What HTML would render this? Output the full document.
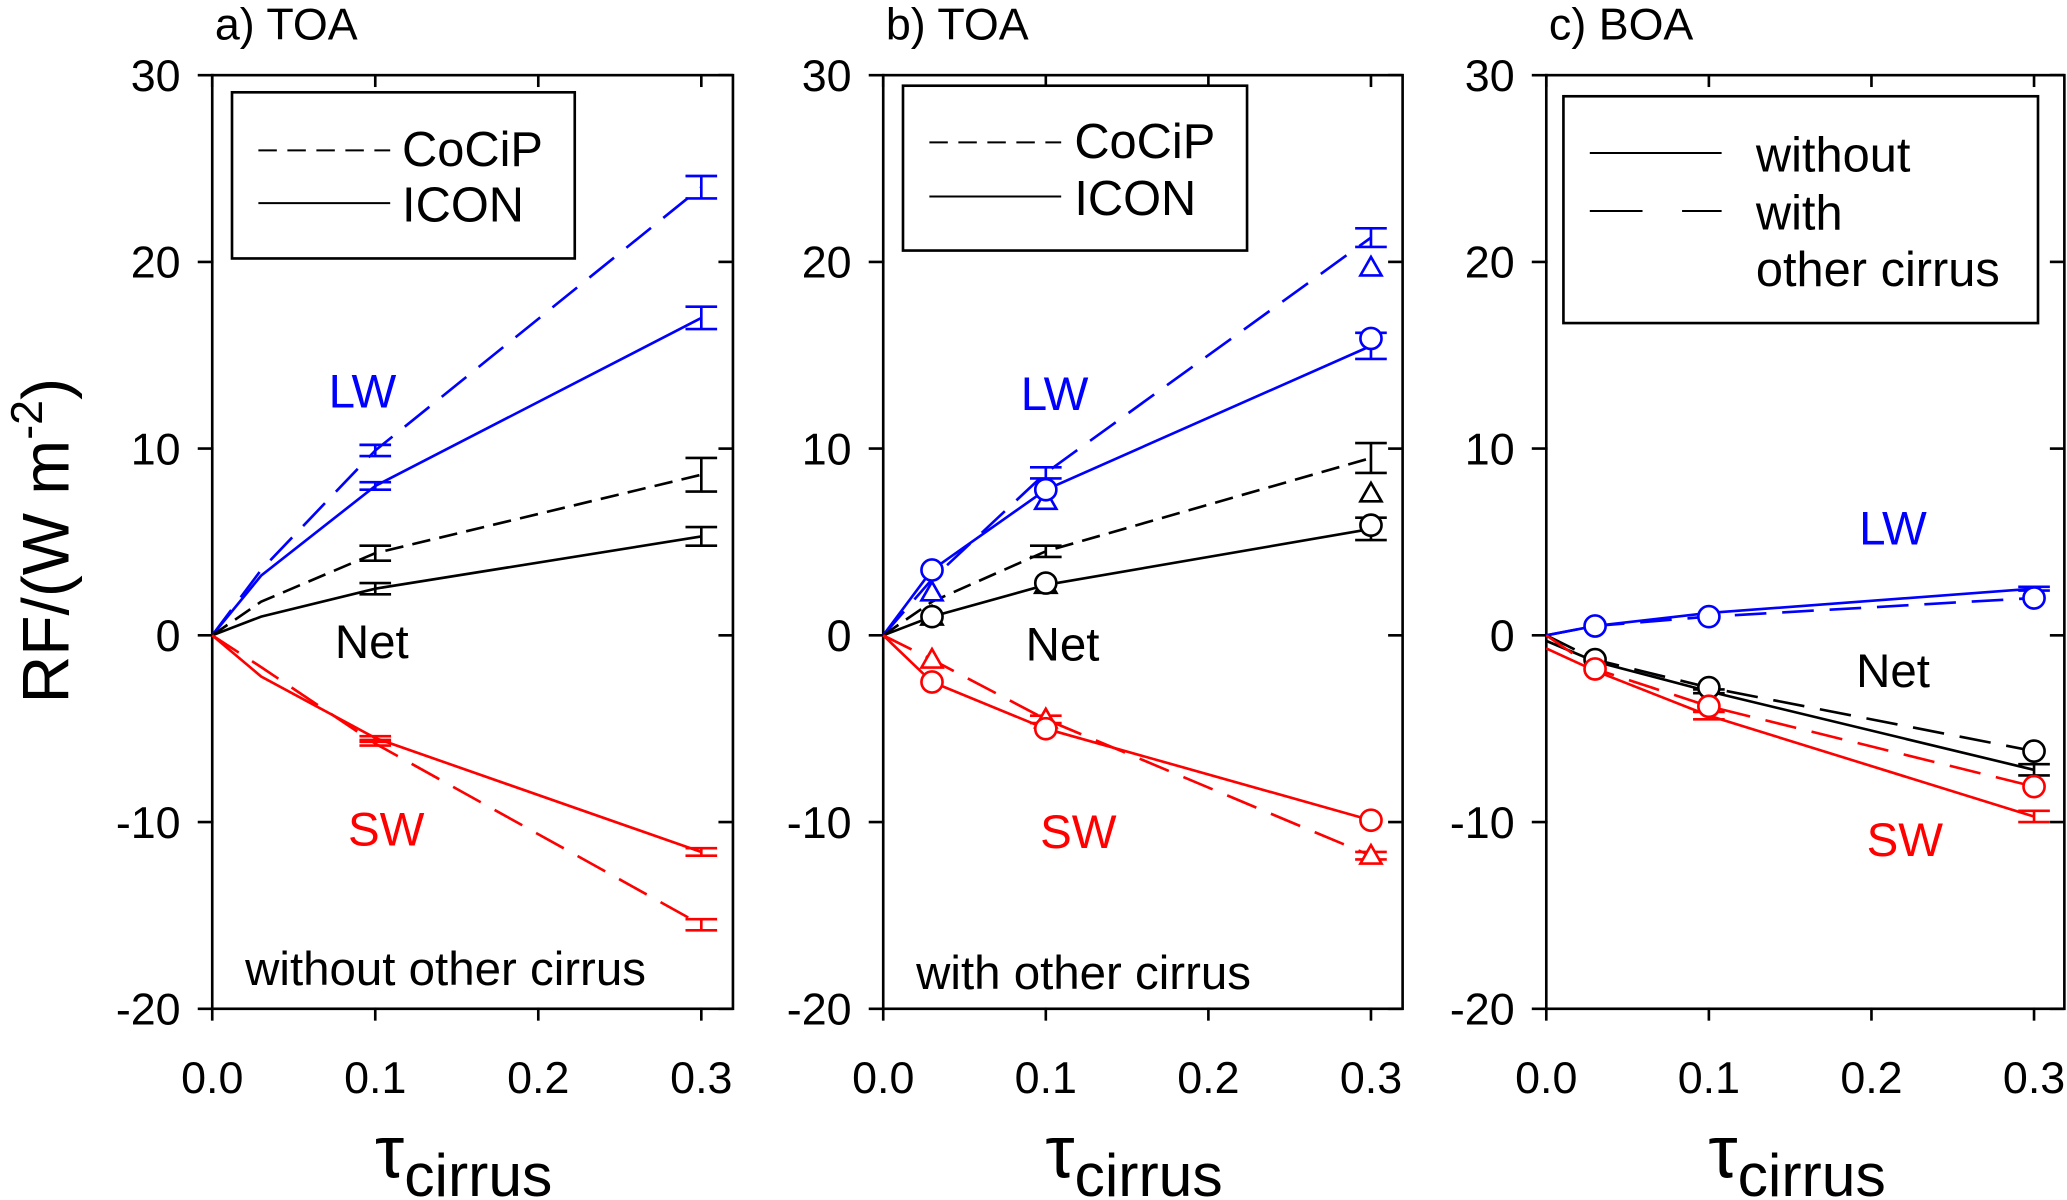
<!DOCTYPE html>
<html><head><meta charset="utf-8"><style>
html,body{margin:0;padding:0;background:#fff;}
svg{display:block;}
text{font-family:"Liberation Sans",Arial,sans-serif;}
</style></head><body>
<svg id="fig" width="2067" height="1200" viewBox="0 0 1568 910" preserveAspectRatio="none" xmlns="http://www.w3.org/2000/svg">
<g id="root"></g>
</svg>
<script>
const xTicks=[0,0.1,0.2,0.3];
const xTickLabels=["0.0","0.1","0.2","0.3"];
const yTicks=[30,20,10,0,-10,-20];
const taus=[0,0.03,0.1,0.3];
// Panel a (TOA, without other cirrus)
const aLwCocip=[0,3.5,9.9,24.0];
const aLwIcon=[0,3.2,8.0,17.0];
const aNetCocip=[0,1.8,4.4,8.6];
const aNetIcon=[0,1.0,2.5,5.3];
const aSwCocip=[0,-1.7,-5.8,-15.5];
const aSwIcon=[0,-2.2,-5.5,-11.6];
// Panel b (TOA, with other cirrus)
const bLwCocip=[0,3.0,8.7,21.3];
const bLwCocipTri=[null,2.3,7.2,19.7];
const bLwIcon=[0,3.5,7.8,15.5];
const bLwIconCirc=[null,3.5,7.8,15.9];
const bNetCocip=[0,1.8,4.5,9.5];
const bNetCocipTri=[null,1.0,2.7,7.6];
const bNetIcon=[0,1.0,2.7,5.7];
const bNetIconCirc=[null,1.0,2.8,5.9];
const bSwCocip=[0,-1.3,-4.5,-11.8];
const bSwIcon=[0,-2.5,-5.0,-9.9];
// Panel c (BOA)
const cLwWithout=[0,0.5,1.2,2.5];
const cLwWith=[0,0.5,1.0,2.0];
const cNetWithout=[-0.3,-1.4,-3.0,-7.2];
const cNetWith=[0,-1.3,-2.8,-6.2];
const cSwWithout=[-0.7,-1.9,-4.3,-9.7];
const cSwWith=[0,-1.8,-3.8,-8.1];

const NS="http://www.w3.org/2000/svg";
const root=document.getElementById('root');
function el(tag,attrs,parent){const e=document.createElementNS(NS,tag);for(const k in attrs)e.setAttribute(k,attrs[k]);(parent||root).appendChild(e);return e;}
function txt(s,x,y,size,fill,anchor,parent){const t=el('text',{x:x,y:y,'font-size':size,fill:fill||'#000','text-anchor':anchor||'start'},parent);t.textContent=s;return t;}

const TOP=57,BOT=765;
function yS(v){return BOT-(v+20)/50*(BOT-TOP);}

function panel(id,x0,x3,right,title){
  const g=el('g',{});
  
  
  const xS=v=>x0+v/0.3*(x3-x0);
  el('rect',{x:x0,y:TOP,width:right-x0,height:BOT-TOP,fill:'none',stroke:'#000','stroke-width':2},g);
  yTicks.forEach(v=>{
    const y=yS(v);
    el('line',{x1:x0-11,y1:y,x2:x0+1,y2:y,stroke:'#000','stroke-width':2},g);
    el('line',{x1:right-11,y1:y,x2:right,y2:y,stroke:'#000','stroke-width':2},g);
    const t=txt(String(v),x0-24,y+12,34,'#000','end',g);
    
    
  });
  xTicks.forEach((v,i)=>{
    const x=xS(v);
    el('line',{x1:x,y1:BOT+9,x2:x,y2:BOT-1,stroke:'#000','stroke-width':2},g);
    el('line',{x1:x,y1:TOP,x2:x,y2:TOP+9,stroke:'#000','stroke-width':2},g);
    const t=txt(xTickLabels[i],x,BOT+64,34,'#000','middle',g);
    
    
  });
  const tt=txt(title,x0+2,30,34,'#000','start',g);
  
  
  const xl=el('text',{x:xS(0.15)-62,y:893,'font-size':56,fill:'#000'},g);
  
  
  xl.innerHTML='τ<tspan font-size="46" dy="14">cirrus</tspan>';
  return {g,xS};
}
function series(P,vals,color,dash,name){
  const pts=[];vals.forEach((v,i)=>{if(v!==null)pts.push(P.xS(taus[i]).toFixed(1)+','+yS(v).toFixed(1));});
  const l=el('polyline',{points:pts.join(' '),fill:'none',stroke:color,'stroke-width':2,'stroke-dasharray':dash||'none'},P.g);
  
  
}
function errbar(P,tau,v,h,color,name){
  const x=P.xS(tau),y1=yS(v+h),y2=yS(v-h);
  const g=el('g',{},P.g);
  
  
  el('line',{x1:x,y1:y1,x2:x,y2:y2,stroke:color,'stroke-width':2},g);
  el('line',{x1:x-12,y1:y1,x2:x+12,y2:y1,stroke:color,'stroke-width':2},g);
  el('line',{x1:x-12,y1:y2,x2:x+12,y2:y2,stroke:color,'stroke-width':2},g);
}
function circles(P,vals,color,name){
  vals.forEach((v,i)=>{if(v===null||i===0)return;
    const c=el('circle',{cx:P.xS(taus[i]),cy:yS(v),r:8,fill:'#fff',stroke:color,'stroke-width':2},P.g);
    
    
  });
}
function triangles(P,vals,color,name){
  vals.forEach((v,i)=>{if(v===null||i===0)return;
    const x=P.xS(taus[i]),y=yS(v);
    const t=el('polygon',{points:`${x-8},${y+6} ${x+8},${y+6} ${x},${y-8}`,fill:'#fff',stroke:color,'stroke-width':2},P.g);
    
    
  });
}
function legend(P,x,y,w,h,items,labels){
  const g=el('g',{},P.g);
  
  
  el('rect',{x:x,y:y,width:w,height:h,fill:'#fff',stroke:'#000','stroke-width':2},g);
  items.forEach(it=>{el('line',{x1:x+20,y1:it.y,x2:x+120,y2:it.y,stroke:'#000','stroke-width':1.5,'stroke-dasharray':it.dash||'none'},g);});
  labels.forEach(lb=>{const t=txt(lb.t,lb.x,lb.y,37,'#000','start',g);});
}
const BLUE='#0000ff',RED='#ff0000',BLK='#000';
const D='14,7',DL='24,12';

// Panel a
const A=panel('a',161,532,556,'a) TOA');
series(A,aLwCocip,BLUE,DL,'lw-cocip-line');series(A,aLwIcon,BLUE,null,'lw-icon-line');
series(A,aNetCocip,BLK,D,'net-cocip-line');series(A,aNetIcon,BLK,null,'net-icon-line');
series(A,aSwCocip,RED,DL,'sw-cocip-line');series(A,aSwIcon,RED,null,'sw-icon-line');
errbar(A,0.1,aLwCocip[2],0.3,BLUE);errbar(A,0.3,aLwCocip[3],0.6,BLUE);
errbar(A,0.1,aLwIcon[2],0.2,BLUE);errbar(A,0.3,aLwIcon[3],0.6,BLUE);
errbar(A,0.1,aNetCocip[2],0.4,BLK);errbar(A,0.3,aNetCocip[3],0.9,BLK);
errbar(A,0.1,aNetIcon[2],0.3,BLK);errbar(A,0.3,aNetIcon[3],0.5,BLK);
errbar(A,0.1,aSwCocip[2],0.1,RED);errbar(A,0.3,aSwCocip[3],0.3,RED);
errbar(A,0.1,aSwIcon[2],0.1,RED);errbar(A,0.3,aSwIcon[3],0.2,RED);
legend(A,176,70,260,126,[{y:114,dash:'14,8'},{y:154}],[{t:'CoCiP',x:305,y:126},{t:'ICON',x:305,y:168}]);
txt('LW',275,309,36,BLUE,'middle',A.g);txt('Net',282,499,36,BLK,'middle',A.g);txt('SW',293,641,36,RED,'middle',A.g);
txt('without other cirrus',338,747,36,BLK,'middle',A.g);

// Panel b
const B=panel('b',670,1040,1064,'b) TOA');
series(B,bLwCocip,BLUE,DL,'lw-cocip-line');series(B,bLwIcon,BLUE,null,'lw-icon-line');
series(B,bNetCocip,BLK,D,'net-cocip-line');series(B,bNetIcon,BLK,null,'net-icon-line');
series(B,bSwCocip,RED,DL,'sw-cocip-line');series(B,bSwIcon,RED,null,'sw-icon-line');
errbar(B,0.1,bLwCocip[2],0.3,BLUE);errbar(B,0.3,bLwCocip[3],0.5,BLUE);
errbar(B,0.3,bLwIcon[3],0.7,BLUE);errbar(B,0.1,bNetCocip[2],0.3,BLK);errbar(B,0.3,bNetCocip[3],0.8,BLK);
errbar(B,0.3,bNetIcon[3],0.6,BLK);errbar(B,0.1,bSwCocip[2],0.2,RED);errbar(B,0.3,bSwCocip[3],0.2,RED);
triangles(B,bLwCocipTri,BLUE,'lw-cocip-marker');circles(B,bLwIconCirc,BLUE,'lw-icon-marker');
triangles(B,bNetCocipTri,BLK,'net-cocip-marker');circles(B,bNetIconCirc,BLK,'net-icon-marker');
triangles(B,bSwCocip,RED,'sw-cocip-marker');circles(B,bSwIcon,RED,'sw-icon-marker');
legend(B,685,65,261,125,[{y:108,dash:'14,8'},{y:149}],[{t:'CoCiP',x:815,y:120},{t:'ICON',x:815,y:163}]);
txt('LW',800,311,36,BLUE,'middle',B.g);txt('Net',806,501,36,BLK,'middle',B.g);txt('SW',818,643,36,RED,'middle',B.g);
txt('with other cirrus',822,750,36,BLK,'middle',B.g);

// Panel c
const C=panel('c',1173,1543,1566,'c) BOA');
series(C,cLwWithout,BLUE,null,'lw-without-line');series(C,cLwWith,BLUE,DL,'lw-with-line');
series(C,cNetWithout,BLK,null,'net-without-line');series(C,cNetWith,BLK,DL,'net-with-line');
series(C,cSwWithout,RED,null,'sw-without-line');series(C,cSwWith,RED,DL,'sw-with-line');
errbar(C,0.3,cLwWithout[3],0.1,BLUE);errbar(C,0.3,cNetWithout[3],0.3,BLK);errbar(C,0.3,cSwWithout[3],0.3,RED);
errbar(C,0.1,cSwWithout[2],0.2,RED);errbar(C,0.1,cNetWithout[2],0.1,BLK);
circles(C,cLwWith,BLUE,'lw-with-marker');circles(C,cNetWith,BLK,'net-with-marker');circles(C,cSwWith,RED,'sw-with-marker');
legend(C,1186,73,360,172,[{y:116},{y:160,dash:'40,30'}],[{t:'without',x:1332,y:130},{t:'with',x:1332,y:174},{t:'other cirrus',x:1332,y:217}]);
txt('LW',1436,413,36,BLUE,'middle',C.g);txt('Net',1436,521,36,BLK,'middle',C.g);txt('SW',1445,649,36,RED,'middle',C.g);

// Y axis title
const yt=el('text',{x:0,y:0,'font-size':50,fill:'#000','text-anchor':'middle',transform:'translate(52,410) rotate(-90)'});


yt.innerHTML='RF/(W m<tspan font-size="34" dy="-20">-2</tspan><tspan dy="20">)</tspan>';
</script>
</body></html>
